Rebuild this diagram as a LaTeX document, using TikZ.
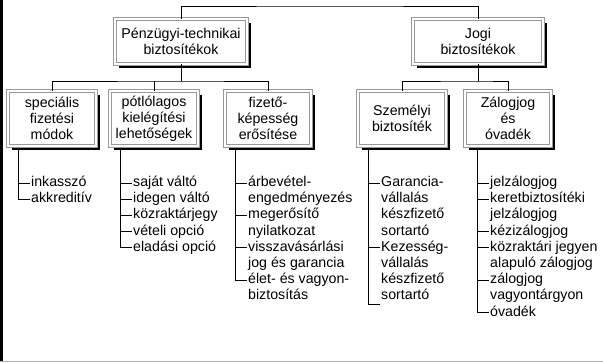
\documentclass[tikz,border=0pt]{standalone}
\usepackage{fontspec}
\setmainfont{Liberation Sans}
\usetikzlibrary{shadows}
\begin{document}
\begin{tikzpicture}[x=1pt,y=-1pt,
  font=\fontsize{14.2}{16.2}\selectfont,
  conn/.style={draw=black,line width=0.9pt},
  boxnode/.style={draw=gray!80,double=white,double distance=1.6pt,line width=0.8pt,
    fill=white,align=center,inner sep=0pt,
    general shadow={fill=black,shadow xshift=4pt,shadow yshift=-4pt}},
  topbox/.style={boxnode,minimum height=45pt},
  midbox/.style={boxnode,minimum height=55pt},
  item/.style={anchor=west,inner sep=1pt,text height=10pt,text depth=3pt}
]
\useasboundingbox (0,0) rectangle (603,362);
\fill[black] (0,0) rectangle (3,362);
\draw[gray!60,line width=1.4pt] (0,361.2) -- (603,361.2);

% connector anchor points
\coordinate (topc) at (330,6);
\coordinate (hl) at (181,81);
\coordinate (hr) at (478,81);

% lists
\def\dy{16.2}
% speciális
\coordinate (spv) at (18,146);
\node[item] (sp1) at (30,183) {inkasszó};
\node[item] (sp2) at (30,183+\dy) {akkreditív};
\draw[conn] (spv) |- (sp2.west);
\draw[conn] (spv) |- (sp1.west);

% pótlólagos
\coordinate (pov) at (120,146);
\node[item] (po1) at (132,183) {saját váltó};
\node[item] (po2) at (132,183+\dy) {idegen váltó};
\node[item] (po3) at (132,183+2*\dy) {közraktárjegy};
\node[item] (po4) at (132,183+3*\dy) {vételi opció};
\node[item] (po5) at (132,183+4*\dy) {eladási opció};
\draw[conn] (pov) |- (po5.west);
\foreach \n in {1,2,3,4}{\draw[conn] (pov |- po\n.west) -- (po\n.west);}

% fizető
\coordinate (fiv) at (235,146);
\node[item] (fi1) at (247,183) {árbevétel-};
\node[item] (fi1b) at (247,183+\dy) {engedményezés};
\node[item] (fi2) at (247,183+2*\dy) {megerősítő};
\node[item] (fi2b) at (247,183+3*\dy) {nyilatkozat};
\node[item] (fi3) at (247,183+4*\dy) {visszavásárlási};
\node[item] (fi3b) at (247,183+5*\dy) {jog és garancia};
\node[item] (fi4) at (247,183+6*\dy) {élet- és vagyon-};
\node[item] (fi4b) at (247,183+7*\dy) {biztosítás};
\draw[conn] (fiv) |- (fi4.west);
\foreach \n in {1,2,3}{\draw[conn] (fiv |- fi\n.west) -- (fi\n.west);}

% személyi
\coordinate (szv) at (368,146);
\node[item] (sz1) at (380,183) {Garancia-};
\node[item] (sz1b) at (380,183+\dy) {vállalás};
\node[item] (sz1c) at (380,183+2*\dy) {készfizető};
\node[item] (sz1d) at (380,183+3*\dy) {sortartó};
\node[item] (sz2) at (380,183+4*\dy) {Kezesség-};
\node[item] (sz2b) at (380,183+5*\dy) {vállalás};
\node[item] (sz2c) at (380,183+6*\dy) {készfizető};
\node[item] (sz2d) at (380,183+7*\dy) {sortartó};
\coordinate (szend) at (380,304);
\draw[conn] (szv) |- (szend);
\draw[conn] (szv |- sz1.west) -- (sz1.west);
\draw[conn] (szv |- sz2.west) -- (sz2.west);

% zálogjog
\coordinate (zav) at (477,146);
\node[item] (za1) at (489,183) {jelzálogjog};
\node[item] (za2) at (489,183+\dy) {keretbiztosítéki};
\node[item] (za2b) at (489,183+2*\dy) {jelzálogjog};
\node[item] (za3) at (489,183+3*\dy) {kézizálogjog};
\node[item] (za4) at (489,183+4*\dy) {közraktári jegyen};
\node[item] (za4b) at (489,183+5*\dy) {alapuló zálogjog};
\node[item] (za5) at (489,183+6*\dy) {zálogjog};
\node[item] (za5b) at (489,183+7*\dy) {vagyontárgyon};
\node[item] (za6) at (489,183+8*\dy) {óvadék};
\draw[conn] (zav) |- (za6.west);
\foreach \n in {1,2,3,4,5}{\draw[conn] (zav |- za\n.west) -- (za\n.west);}

% boxes (drawn over the list lines)
\node[topbox,minimum width=132pt] (pt) at (181,41.5) {Pénzügyi-technikai\\biztosítékok};
\node[topbox,minimum width=130pt] (jb) at (478,41.5) {Jogi\\biztosítékok};
\node[midbox,minimum width=88pt] (sp) at (52,118.5) {speciális\\fizetési\\módok};
\node[midbox,minimum width=88pt] (po) at (154,118.5) {pótlólagos\\kielégítési\\lehetőségek};
\node[midbox,minimum width=86pt] (fi) at (268,118.5) {fizető-\\képesség\\erősítése};
\node[midbox,minimum width=88pt] (sz) at (402,118.5) {Személyi\\biztosíték};
\node[midbox,minimum width=86pt] (za) at (508,118.5) {Zálogjog\\és\\óvadék};

% connectors between boxes
\draw[conn] (pt.north) |- (topc) -| (jb.north);
\draw[conn] (pt.south) -- (hl);
\draw[conn] (sp.north) |- (hl) -| (fi.north);
\draw[conn] (po.north) -- (po.north |- hl);
\draw[conn] (jb.south) -- (hr);
\draw[conn] (sz.north) |- (hr) -| (za.north);
\end{tikzpicture}
\end{document}
